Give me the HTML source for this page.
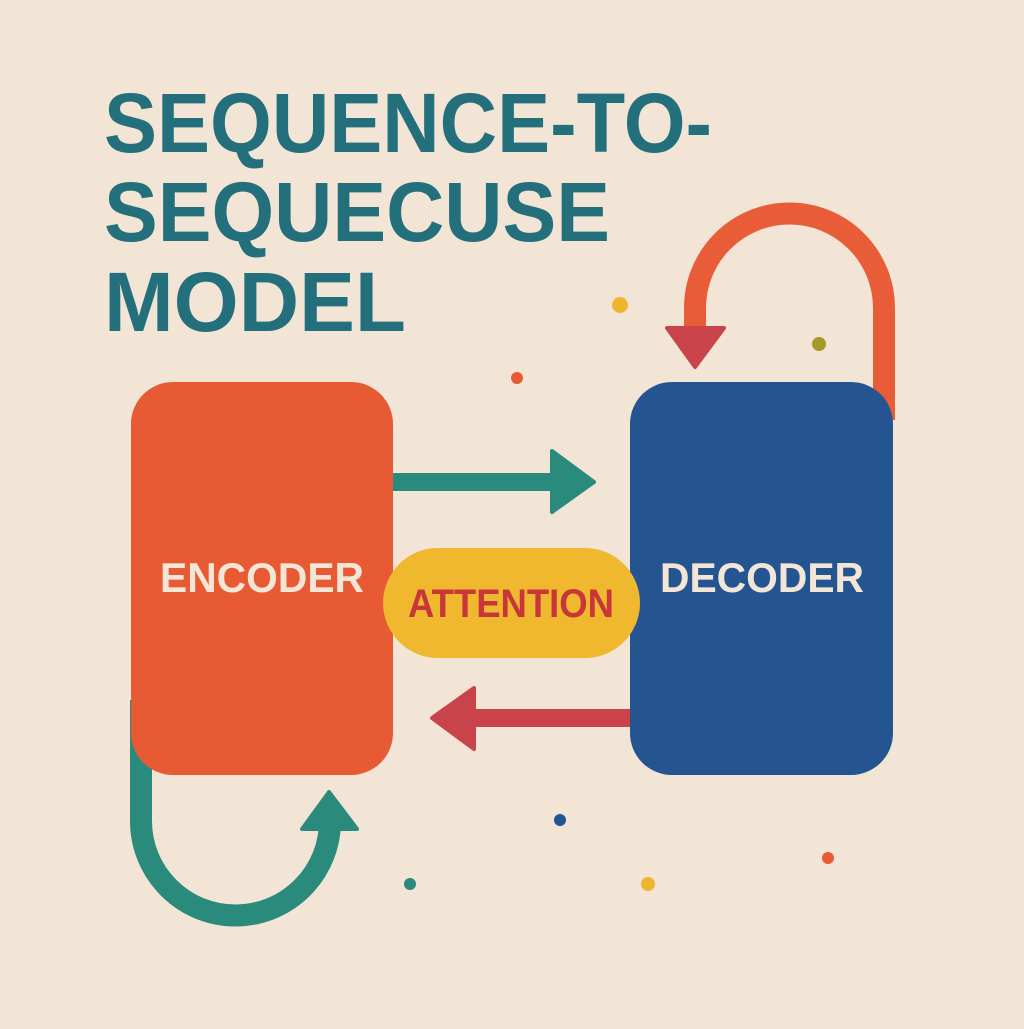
<!DOCTYPE html>
<html><head><style>html,body{margin:0;padding:0;background:#f2e5d5;}</style></head>
<body>
<svg width="1024" height="1024" viewBox="0 0 1024 1024" xmlns="http://www.w3.org/2000/svg">
<rect width="1024" height="1024" fill="#f2e5d5"/>
<g font-family="Liberation Sans, sans-serif" font-weight="bold" fill="#246f7c" font-size="84">
<text x="104" y="152" textLength="608" lengthAdjust="spacingAndGlyphs">SEQUENCE-TO-</text>
<text x="104" y="241" textLength="506" lengthAdjust="spacingAndGlyphs">SEQUECUSE</text>
<text x="104" y="331" textLength="302" lengthAdjust="spacingAndGlyphs">MODEL</text>
</g>
<path d="M884 420 L884 308 A94.5 94.5 0 0 0 695 308 L695 330" fill="none" stroke="#e85d37" stroke-width="22"/>
<polygon points="667,328 724,328 695,367" fill="#c9434a" stroke="#c9434a" stroke-width="4" stroke-linejoin="round"/>
<path d="M141 700 L141 821 A94.5 94.5 0 0 0 330 821 L330 826" fill="none" stroke="#2a8a7c" stroke-width="22"/>
<polygon points="302,829 357,829 329,792" fill="#2a8a7c" stroke="#2a8a7c" stroke-width="4" stroke-linejoin="round"/>
<rect x="131" y="382" width="262" height="393" rx="42" fill="#e85a33"/>
<rect x="630" y="382" width="263" height="393" rx="42" fill="#245591"/>
<rect x="393" y="473" width="165" height="18" fill="#2a8a7c"/>
<polygon points="552,451 594,482 552,512" fill="#2a8a7c" stroke="#2a8a7c" stroke-width="4" stroke-linejoin="round"/>
<rect x="468" y="709" width="162" height="18" fill="#c9434a"/>
<polygon points="474,688 432,718 474,749" fill="#c9434a" stroke="#c9434a" stroke-width="4" stroke-linejoin="round"/>
<rect x="383" y="548" width="257" height="110" rx="55" fill="#f0b82e"/>
<g font-family="Liberation Sans, sans-serif" font-weight="bold" font-size="42" text-anchor="middle">
<text x="262" y="592" fill="#f4e6d6" textLength="204" lengthAdjust="spacingAndGlyphs">ENCODER</text>
<text x="762" y="592" fill="#f4e6d6" textLength="204" lengthAdjust="spacingAndGlyphs">DECODER</text>
<text x="511" y="617" fill="#c8363a" font-size="40" textLength="206" lengthAdjust="spacingAndGlyphs">ATTENTION</text>
</g>
<circle cx="620" cy="305" r="8" fill="#efb52e"/>
<circle cx="819" cy="344" r="7" fill="#a39a2a"/>
<circle cx="517" cy="378" r="6" fill="#e85a33"/>
<circle cx="560" cy="820" r="6" fill="#245591"/>
<circle cx="410" cy="884" r="6" fill="#2a8a7c"/>
<circle cx="648" cy="884" r="7" fill="#efb52e"/>
<circle cx="828" cy="858" r="6" fill="#e85a33"/>
</svg>
</body></html>
